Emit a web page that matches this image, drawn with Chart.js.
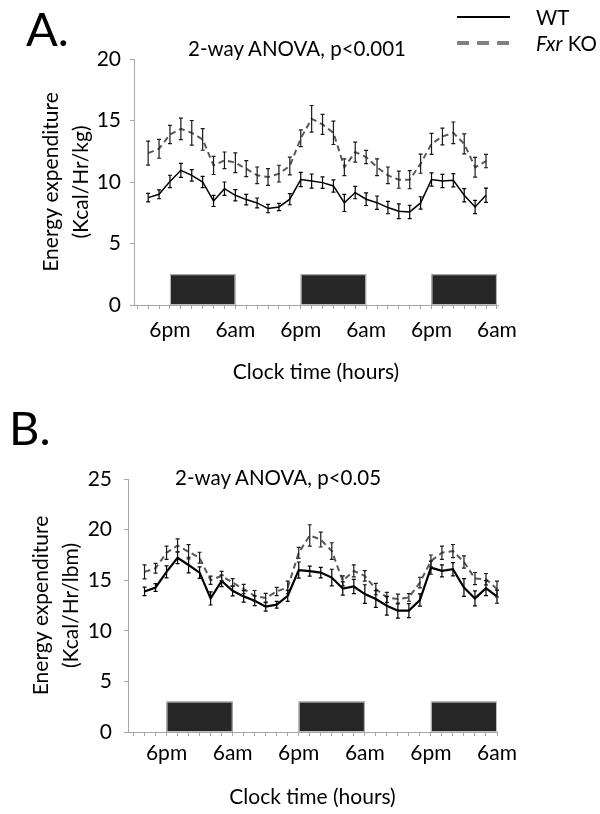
<!DOCTYPE html>
<html>
<head>
<meta charset="utf-8">
<script src="https://cdn.jsdelivr.net/npm/chart.js@4.4.0/dist/chart.umd.min.js"></script>
<style>
body { margin: 0; background: #fff; }
#wrap { position: relative; width: 600px; height: 814px; overflow: hidden; font-family: Lato, sans-serif; }
canvas { position: absolute; left: 0; }
.t { position: absolute; white-space: nowrap; color: #000; line-height: 1; }
</style>
</head>
<body>
<div id="wrap">
  <canvas id="chartA" width="600" height="400" style="top:0"></canvas>
  <canvas id="chartB" width="600" height="414" style="top:400px"></canvas>

  <div class="t" style="left:26px;top:5px;font-size:47px">A.</div>
  <div class="t" style="left:9px;top:404px;font-size:47px">B.</div>
  <div class="t" style="left:188px;top:38px;font-size:20.5px">2-way ANOVA, p&lt;0.001</div>
  <div class="t" style="left:175px;top:467px;font-size:20.5px">2-way ANOVA, p&lt;0.05</div>

  <svg style="position:absolute;left:455px;top:8px" width="60" height="45">
    <line x1="2" y1="9" x2="55" y2="9" stroke="#000" stroke-width="2"/>
    <line x1="2" y1="35" x2="55" y2="35" stroke="#808080" stroke-width="4" stroke-dasharray="12,8"/>
  </svg>
  <div class="t" style="left:536px;top:7px;font-size:20.5px">WT</div>
  <div class="t" style="left:536px;top:33px;font-size:20.5px"><i>Fxr</i> KO</div>
</div>

<script>
// 2-hour bins, index 0 = first bin
var wtA    = [8.73, 9.0, 10.05, 10.95, 10.54, 10.0, 8.46, 9.46, 8.92, 8.57, 8.3, 7.84, 7.97, 8.6, 10.2, 10.08,
              9.95, 9.68, 8.3, 9.14, 8.6, 8.32, 7.92, 7.62, 7.57, 8.3, 10.2, 10.08, 10.14, 8.92, 7.97, 8.92];
var wtAErr = [0.34, 0.36, 0.5, 0.57, 0.47, 0.46, 0.45, 0.54, 0.46, 0.43, 0.4, 0.34, 0.3, 0.45, 0.58, 0.57,
              0.47, 0.5, 0.7, 0.5, 0.51, 0.54, 0.5, 0.6, 0.54, 0.5, 0.54, 0.54, 0.54, 0.54, 0.54, 0.58];
var koA    = [12.35, 12.7, 13.86, 14.32, 14.0, 13.46, 11.35, 11.76, 11.57, 11.08, 10.54, 10.4, 10.68, 11.3, 13.55, 15.14,
              14.68, 14.0, 11.2, 12.43, 12.03, 11.2, 10.54, 10.19, 10.19, 11.49, 13.1, 13.7, 14.0, 13.1, 11.2, 11.7];
var koAErr = [0.97, 0.77, 0.74, 0.88, 1.0, 0.88, 0.74, 0.68, 0.8, 0.65, 0.68, 0.68, 0.68, 0.72, 0.68, 1.08,
              0.81, 0.95, 0.68, 0.81, 0.54, 0.68, 0.68, 0.7, 0.74, 0.78, 0.85, 0.68, 0.88, 0.81, 0.81, 0.54];

var wtB    = [13.89, 14.28, 15.82, 17.22, 16.5, 15.75, 13.2, 14.93, 13.95, 13.4, 12.97, 12.39, 12.58, 13.46, 16.0, 15.9, 15.75,
              15.26, 14.18, 14.38, 13.63, 13.14, 12.48, 11.99, 11.99, 13.04, 16.24, 15.92, 16.08, 14.28, 13.2, 14.22, 13.37];
var wtBErr = [0.42, 0.39, 0.6, 0.59, 0.77, 0.56, 0.65, 0.57, 0.49, 0.57, 0.49, 0.44, 0.33, 0.56, 0.8, 0.49, 0.52,
              0.82, 0.65, 0.7, 0.92, 0.82, 0.93, 0.74, 0.69, 0.6, 0.65, 0.59, 0.65, 0.87, 0.74, 0.74, 0.65];
var koB    = [15.82, 16.18, 17.71, 18.43, 17.81, 17.22, 15.0, 15.42, 14.77, 14.12, 13.46, 13.24, 13.89, 14.28, 17.71, 19.42, 19.02,
              17.88, 14.93, 15.92, 15.42, 14.12, 13.3, 13.14, 13.3, 14.77, 16.9, 17.71, 17.88, 16.8, 15.16, 15.1, 14.12];
var koBErr = [0.69, 0.49, 0.65, 0.65, 0.7, 0.54, 0.41, 0.46, 0.38, 0.46, 0.52, 0.46, 0.41, 0.62, 0.54, 1.06, 0.74,
              0.82, 0.49, 0.59, 0.52, 0.56, 0.49, 0.49, 0.38, 0.52, 0.59, 0.65, 0.65, 0.6, 0.6, 0.56, 0.78];

// dark phase (bin index where it starts / ends)
var darkStarts = [2, 14, 26];
var darkEnds   = [8, 20, 32];

var tickIdx   = [-1, 0, 1, 2, 3, 4, 5, 6, 7, 8, 9, 10, 11, 12, 13, 14, 15, 16, 17, 18, 19, 20,
                 21, 22, 23, 24, 25, 26, 27, 28, 29, 30, 31, 32];
var labelAt   = [2, 8, 14, 20, 26, 32];
var labelText = ['6pm', '6am', '6pm', '6am', '6pm', '6am'];

var darkBoxes = {
    id: 'darkBoxes',
    beforeDatasetsDraw: function(chart, args, o) {
        var ctx = chart.ctx, x = chart.scales.x, y = chart.scales.y;
        ctx.save();
        darkStarts.forEach(function(s, k) {
            var x0 = x.getPixelForValue(s), x1 = x.getPixelForValue(darkEnds[k]);
            var y0 = y.getPixelForValue(0), y1 = y.getPixelForValue(o.height);
            ctx.fillStyle = '#262626';
            ctx.fillRect(x0, y1, x1 - x0, y0 - y1);
            ctx.strokeStyle = '#bdbdbd';
            ctx.lineWidth = 1;
            ctx.strokeRect(x0 + 0.5, y1 + 0.5, x1 - x0 - 1, y0 - y1 - 1);
        });
        ctx.restore();
    }
};

var errorBars = {
    id: 'errorBars',
    afterDatasetsDraw: function(chart) {
        var ctx = chart.ctx, y = chart.scales.y;
        chart.data.datasets.forEach(function(ds, i) {
            var meta = chart.getDatasetMeta(i);
            ctx.save();
            ctx.strokeStyle = ds.errorColor;
            ctx.lineWidth = 1.2;
            meta.data.forEach(function(pt, j) {
                var v = ds.data[j].y, e = ds.errors[j];
                var top = y.getPixelForValue(v + e), bot = y.getPixelForValue(v - e);
                ctx.beginPath();
                ctx.moveTo(pt.x, top); ctx.lineTo(pt.x, bot);
                ctx.moveTo(pt.x - 2, top); ctx.lineTo(pt.x + 2, top);
                ctx.moveTo(pt.x - 2, bot); ctx.lineTo(pt.x + 2, bot);
                ctx.stroke();
            });
            ctx.restore();
        });
    }
};

function pts(arr) {
    return arr.map(function(v, i) { return {x: i, y: v}; });
}

function panel(id, wt, wtErr, ko, koErr, o) {
    var font = {family: 'Lato', size: 21};
    return new Chart(document.getElementById(id), {
        type: 'line',
        data: {
            datasets: [
                {label: 'WT', data: pts(wt), errors: wtErr, errorColor: '#000',
                 borderColor: '#000', borderWidth: o.wtWidth, pointRadius: 0, tension: 0, fill: false},
                {label: 'Fxr KO', data: pts(ko), errors: koErr, errorColor: '#1a1a1a',
                 borderColor: '#595959', borderWidth: 2, borderDash: [6, 4], pointRadius: 0, tension: 0, fill: false}
            ]
        },
        options: {
            responsive: false,
            animation: false,
            layout: {padding: {top: o.top, right: o.right, left: 0, bottom: 0}},
            plugins: {
                legend: {display: false},
                tooltip: {enabled: false},
                darkBoxes: {height: o.boxH}
            },
            scales: {
                x: {
                    type: 'linear', min: o.xMin, max: o.xMax,
                    afterFit: function(s) { s.height = o.xH; },
                    afterBuildTicks: function(s) { s.ticks = tickIdx.map(function(v) { return {value: v}; }); },
                    ticks: {
                        autoSkip: false, maxRotation: 0, padding: o.xPad, color: '#000', font: font,
                        callback: function(v) { var k = labelAt.indexOf(v); return k < 0 ? '' : labelText[k]; }
                    },
                    grid: {drawOnChartArea: false, tickLength: 4, color: '#a6a6a6'},
                    border: {color: '#a6a6a6'},
                    title: {display: true, text: 'Clock time (hours)', color: '#000', font: font,
                            padding: {top: 0, bottom: o.xtPad}}
                },
                y: {
                    min: 0, max: o.yMax,
                    afterFit: function(s) { s.width = o.yW; },
                    ticks: {stepSize: 5, padding: o.yPad, color: '#000', font: font},
                    grid: {drawOnChartArea: false, tickLength: 4, color: '#a6a6a6'},
                    border: {color: '#a6a6a6'},
                    title: {display: true, text: ['Energy expenditure', o.unit], color: '#000',
                            font: {family: 'Lato', size: 21, lineHeight: 1.4},
                            padding: {top: o.ytPad, bottom: 0}}
                }
            }
        },
        plugins: [darkBoxes, errorBars]
    });
}

panel('chartA', wtA, wtAErr, koA, koAErr, {
    top: 59, right: 102, yW: 134, xH: 95, xMin: -1.3, xMax: 32.1, yMax: 20,
    boxH: 2.5, wtWidth: 1.5, xPad: 9, xtPad: 15, yPad: 9, ytPad: 37, unit: '(Kcal/Hr/kg)'
});
panel('chartB', wtB, wtBErr, koB, koBErr, {
    top: 79, right: 103, yW: 128, xH: 82, xMin: -1.5, xMax: 32, yMax: 25,
    boxH: 3, wtWidth: 2.2, xPad: 5, xtPad: 4, yPad: 12, ytPad: 27, unit: '(Kcal/Hr/lbm)'
});
</script>
</body>
</html>
